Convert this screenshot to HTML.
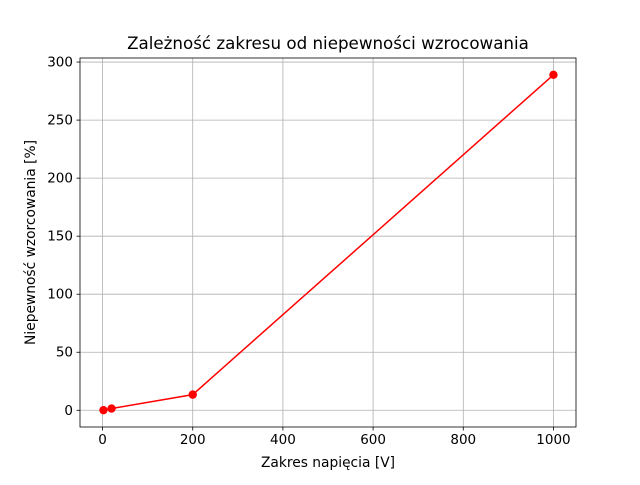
<!DOCTYPE html>
<html><head><meta charset="utf-8"><style>body{margin:0;background:#fff}svg{font-family:"DejaVu Sans","Liberation Sans",sans-serif}</style></head>
<body>
<svg id="chart" width="640" height="480" xmlns="http://www.w3.org/2000/svg">
<rect width="640" height="480" fill="#fff"/>
<g id="grid"></g>
<g id="marks"></g>
<rect x="80" y="58" width="496" height="369" fill="none" stroke="#000" stroke-width="0.8"/>
<g id="ticks" font-size="13.5"></g>
<text x="328" y="49" text-anchor="middle" font-size="16.7">Zależność zakresu od niepewności wzrocowania</text>
<text x="328" y="467" text-anchor="middle" font-size="13.8">Zakres napięcia [V]</text>
<text transform="translate(35,242.5) rotate(-90)" text-anchor="middle" font-size="13.8">Niepewność wzorcowania [%]</text>
</svg>
<script>
const xVals=[2,20,200,1000];
const yVals=[0.1,1.5,13.5,289];
const xTicks=[0,200,400,600,800,1000];
const yTicks=[0,50,100,150,200,250,300];
const X0=80,X1=576,Y0=427,Y1=58;
const xMin=-50,xMax=1050,yMin=-14.4,yMax=303.5;
const sx=v=>X0+(v-xMin)/(xMax-xMin)*(X1-X0);
const sy=v=>Y0-(v-yMin)/(yMax-yMin)*(Y0-Y1);
const ns="http://www.w3.org/2000/svg";
function mk(t,a,p){const e=document.createElementNS(ns,t);for(const k in a)e.setAttribute(k,a[k]);p.appendChild(e);return e;}
const grid=document.getElementById('grid'),ticks=document.getElementById('ticks'),marks=document.getElementById('marks');
xTicks.forEach(v=>{const x=sx(v);
const g=mk('line',{x1:x,x2:x,y1:Y1,y2:Y0,stroke:'#b0b0b0','stroke-width':0.8},grid);

mk('line',{x1:x,x2:x,y1:Y0,y2:Y0+3.5,stroke:'#000','stroke-width':0.8},ticks);
const t=mk('text',{x:x,y:Y0+17,'text-anchor':'middle'},ticks);t.textContent=v;
});
yTicks.forEach(v=>{const y=sy(v);
const g=mk('line',{x1:X0,x2:X1,y1:y,y2:y,stroke:'#b0b0b0','stroke-width':0.8},grid);

mk('line',{x1:X0-3.5,x2:X0,y1:y,y2:y,stroke:'#000','stroke-width':0.8},ticks);
const t=mk('text',{x:X0-7,y:y+4.5,'text-anchor':'end'},ticks);t.textContent=v;
});
const pl=mk('polyline',{points:xVals.map((v,i)=>sx(v)+','+sy(yVals[i])).join(' '),fill:'none',stroke:'red','stroke-width':1.5},marks);

xVals.forEach((v,i)=>{const c=mk('circle',{cx:sx(v),cy:sy(yVals[i]),r:4.2,fill:'red'},marks);
});
</script>
</body></html>
